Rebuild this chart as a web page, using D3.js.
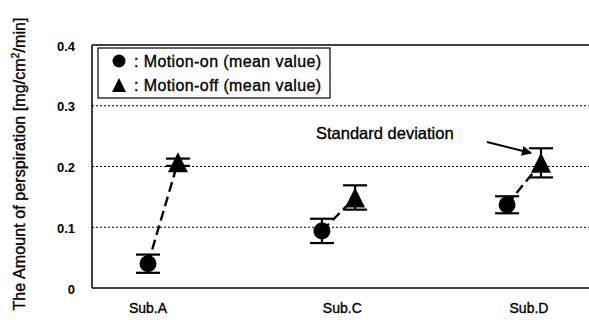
<!DOCTYPE html>
<html>
<head>
<meta charset="utf-8">
<script src="https://cdn.jsdelivr.net/npm/d3@7"></script>
<style>
  html, body { margin: 0; padding: 0; background: #fff; }
  svg { display: block; font-family: "Liberation Sans", Arial, sans-serif; }
  .ink { stroke: #000; stroke-width: 0.35; }
</style>
</head>
<body>
<svg id="chart" width="589" height="320"></svg>
<script>
// Subjects and their label positions along the x axis
const categories = ["Sub.A", "Sub.C", "Sub.D"];
const categoryX = [0, 1.02, 2];

// Motion-on: x value, mean and standard deviation per subject
const motionOnX = [0.0, 0.913, 1.885];
const motionOnMean = [0.040, 0.094, 0.137];
const motionOnSD = [0.015, 0.020, 0.014];

// Motion-off: x value, mean and standard deviation per subject
const motionOffX = [0.157, 1.087, 2.063];
const motionOffMean = [0.207, 0.149, 0.206];
const motionOffSD = [0.006, 0.020, 0.024];

// Y axis ticks
const yTicks = [0, 0.1, 0.2, 0.3, 0.4];
const yTickLabels = ["0", "0.1", "0.2", "0.3", "0.4"];

const legendLabels = [": Motion-on (mean value)", ": Motion-off (mean value)"];
const annotation = "Standard deviation";

const svg = d3.select("#chart");
const plot = { left: 92, right: 589, top: 45, bottom: 288 };

const x = d3.scaleLinear().domain([0, 2]).range([148, 529]);
const y = d3.scaleLinear().domain([0, 0.4]).range([plot.bottom, plot.top]);

// dotted grid lines
svg.append("g")
  .selectAll("line")
  .data(yTicks.filter(v => v > 0 && v < 0.4))
  .join("line")
  .attr("x1", plot.left).attr("x2", plot.right)
  .attr("y1", d => y(d)).attr("y2", d => y(d))
  .attr("stroke", "#000").attr("stroke-width", 1)
  .attr("stroke-dasharray", "2,2");

// frame: top, left, bottom
svg.append("line").attr("x1", plot.left).attr("x2", plot.right)
  .attr("y1", y(0.4)).attr("y2", y(0.4)).attr("stroke", "#000").attr("stroke-width", 1.3);
svg.append("line").attr("x1", plot.left).attr("x2", plot.right)
  .attr("y1", y(0)).attr("y2", y(0)).attr("stroke", "#000").attr("stroke-width", 1.5);
svg.append("line").attr("x1", plot.left).attr("x2", plot.left)
  .attr("y1", y(0.4)).attr("y2", y(0)).attr("stroke", "#000").attr("stroke-width", 1.5);

// y axis labels
const yAxis = d3.axisLeft(y).tickValues(yTicks)
  .tickFormat((d, i) => yTickLabels[i]).tickSize(0).tickPadding(17);
const yg = svg.append("g").attr("transform", `translate(${plot.left},0)`).call(yAxis);
yg.select(".domain").remove();
yg.selectAll("text").attr("font-size", 13).attr("font-weight", "bold")
  .attr("font-family", "Liberation Sans, Arial, sans-serif").attr("fill", "#000")
  .attr("dy", "0.4em");

// x axis labels
svg.append("g")
  .selectAll("text")
  .data(categories)
  .join("text")
  .attr("class", "ink")
  .attr("x", (d, i) => x(categoryX[i]))
  .attr("y", 313)
  .attr("text-anchor", "middle")
  .attr("font-size", 14)
  .text(d => d);

// y axis title
const yt = svg.append("text")
  .attr("class", "ink")
  .attr("transform", "translate(25,164) rotate(-90)")
  .attr("text-anchor", "middle")
  .attr("font-size", 16)
  .attr("letter-spacing", 0.1);
yt.append("tspan").text("The Amount of perspiration [mg/cm");
yt.append("tspan").attr("font-size", 10).attr("dy", -6).text("2");
yt.append("tspan").attr("dy", 6).text("/min]");

// dashed connectors between the two means of each subject
svg.append("g")
  .selectAll("line")
  .data(categories)
  .join("line")
  .attr("x1", (d, i) => x(motionOnX[i])).attr("y1", (d, i) => y(motionOnMean[i]))
  .attr("x2", (d, i) => x(motionOffX[i])).attr("y2", (d, i) => y(motionOffMean[i]))
  .attr("stroke", "#000").attr("stroke-width", 2.4)
  .attr("stroke-dasharray", "10,5");

// error bars
function errorBars(xs, means, sds) {
  const g = svg.append("g").attr("stroke", "#000").attr("stroke-width", 2.2);
  const d = means.map((m, i) => ({ x: xs[i], m, s: sds[i] }));
  g.selectAll("line.v").data(d).join("line").attr("class", "v")
    .attr("x1", p => x(p.x)).attr("x2", p => x(p.x))
    .attr("y1", p => y(p.m + p.s)).attr("y2", p => y(p.m - p.s));
  g.selectAll("line.t").data(d).join("line").attr("class", "t")
    .attr("x1", p => x(p.x) - 12).attr("x2", p => x(p.x) + 12)
    .attr("y1", p => y(p.m + p.s)).attr("y2", p => y(p.m + p.s));
  g.selectAll("line.b").data(d).join("line").attr("class", "b")
    .attr("x1", p => x(p.x) - 12).attr("x2", p => x(p.x) + 12)
    .attr("y1", p => y(p.m - p.s)).attr("y2", p => y(p.m - p.s));
}
errorBars(motionOnX, motionOnMean, motionOnSD);
errorBars(motionOffX, motionOffMean, motionOffSD);

// markers
const triPath = s => `M0,${-s}L${s},${s}L${-s},${s}Z`;
svg.append("g").selectAll("circle")
  .data(motionOnMean)
  .join("circle")
  .attr("cx", (d, i) => x(motionOnX[i])).attr("cy", d => y(d))
  .attr("r", 8.5).attr("fill", "#000");
svg.append("g").selectAll("path")
  .data(motionOffMean)
  .join("path")
  .attr("transform", (d, i) => `translate(${x(motionOffX[i])},${y(d)})`)
  .attr("d", triPath(10)).attr("fill", "#000");

// legend
const lg = svg.append("g");
lg.append("rect").attr("x", 98).attr("y", 48).attr("width", 232).attr("height", 50)
  .attr("fill", "#fff").attr("stroke", "#000").attr("stroke-width", 1.2);
lg.append("circle").attr("cx", 119).attr("cy", 61).attr("r", 6.5).attr("fill", "#000");
lg.append("path").attr("transform", "translate(119,85)").attr("d", triPath(7)).attr("fill", "#000");
lg.selectAll("text").data(legendLabels).join("text")
  .attr("class", "ink")
  .attr("x", 134).attr("y", (d, i) => 67 + i * 24)
  .attr("font-size", 16)
  .attr("letter-spacing", 0.4)
  .text(d => d);

// annotation with arrow
svg.append("defs").append("marker")
  .attr("id", "head").attr("viewBox", "0 0 10 10").attr("refX", 9).attr("refY", 5)
  .attr("markerWidth", 6).attr("markerHeight", 5).attr("orient", "auto")
  .attr("markerUnits", "strokeWidth")
  .append("path").attr("d", "M0,0L10,5L0,10Z").attr("fill", "#000");
svg.append("text").attr("class", "ink").attr("x", 316).attr("y", 139)
  .attr("font-size", 16.5).text(annotation);
svg.append("line").attr("x1", 487).attr("y1", 142).attr("x2", 531).attr("y2", 153)
  .attr("stroke", "#000").attr("stroke-width", 2).attr("marker-end", "url(#head)");
</script>
</body>
</html>
